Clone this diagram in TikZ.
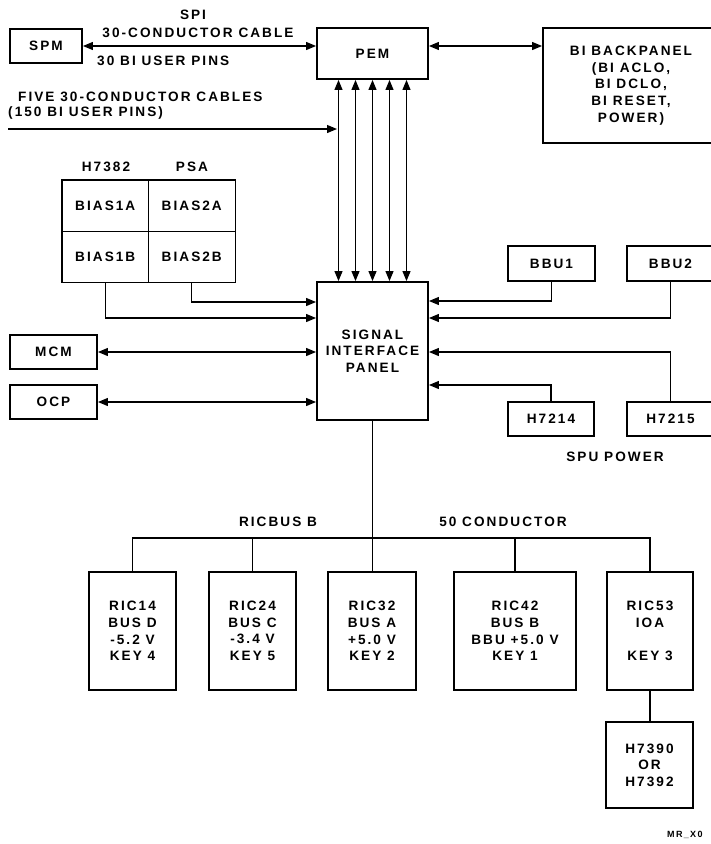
\documentclass[tikz,border=0pt]{standalone}
\usepackage{fontspec}
\setmainfont{Liberation Sans}[LetterSpace=15]
\usetikzlibrary{arrows.meta}
\newcommand{\pfont}{\fontsize{13.6}{16.6}\selectfont\bfseries}
\tikzset{
  pbox/.style={draw,line width=1.9pt,align=center,font=\pfont,inner sep=0pt},
  pcell/.style={draw,line width=1pt,minimum width=86.5,minimum height=51,font=\pfont,inner sep=0pt},
  plab/.style={font=\pfont,inner sep=0pt,align=center},
  pline/.style={line width=1.2pt},
  parr/.style={pline,-{Triangle[length=10pt,width=8pt]}},
  pdbl/.style={pline,{Triangle[length=10pt,width=8pt]}-{Triangle[length=10pt,width=8pt]}},
}

\begin{document}
\begin{tikzpicture}[x=1pt,y=-1pt]
\clip (0,0) rectangle (711,844);
% ---- top row: SPM, PEM, backpanel
\node[pbox,minimum width=72,minimum height=34] (spm) at (46,46) {SPM};
\node[pbox,minimum width=111,minimum height=51] (pem) at (372.5,53.5) {PEM};
\node[pbox,minimum width=176,minimum height=115] (bib) at (631,85.5) {BI BACKPANEL\\(BI ACLO,\\BI DCLO,\\BI RESET,\\POWER)};
\draw[pdbl] (spm.east) -- (spm.east -| pem.west);
\draw[pdbl] (pem.east |- spm.east) -- (bib.west |- spm.east);
\node[plab] (spi) at (193,15) {SPI};
\node[plab] (spicab) at (198,33) {30-CONDUCTOR CABLE};
\node[plab,anchor=west] (spipins) at (97,61) {30 BI USER PINS};
% ---- signal interface panel and the five cables
\node[pbox,minimum width=111,minimum height=138] (sip) at (372.5,351) {SIGNAL\\INTERFACE\\PANEL};
\foreach \d [count=\i] in {-34,-17,0,17,34}
  \draw[pdbl] ([xshift=\d]pem.south) coordinate (v\i) -- ([xshift=\d]sip.north);
\node[plab,anchor=west] (fivecab) at (18,97) {FIVE 30-CONDUCTOR CABLES};
\node[plab,anchor=west] (fivepins) at (8,113) {(150 BI USER PINS)};
\coordinate (cab) at (8,129);
\draw[parr] (cab) -- ([xshift=-1.5]cab -| v1);
% ---- H7382 PSA
\node[pcell] (b1a) at (105.25,205.5) {BIAS1A};
\node[pcell] (b2a) at (191.75,205.5) {BIAS2A};
\node[pcell] (b1b) at (105.25,256.5) {BIAS1B};
\node[pcell] (b2b) at (191.75,256.5) {BIAS2B};
\draw[line width=1.9pt] (b1a.north west) rectangle (b2b.south east);
\node[plab] (h7382) at (106,167) {H7382};
\node[plab] (psa) at (192,167) {PSA};
\draw[parr] (b2b.south) |- ([yshift=49]sip.west);
\draw[parr] (b1b.south) |- ([yshift=33]sip.west);
% ---- MCM, OCP
\node[pbox,minimum width=87,minimum height=34] (mcm) at (53.5,352) {MCM};
\node[pbox,minimum width=87,minimum height=34] (ocp) at (53.5,402) {OCP};
\draw[pdbl] (mcm.east) -- (mcm.east -| sip.west);
\draw[pdbl] (ocp.east) -- (ocp.east -| sip.west);
% ---- SPU power
\node[pbox,minimum width=87,minimum height=35] (bbu1) at (551.5,263.5) {BBU1};
\node[pbox,minimum width=87,minimum height=35] (bbu2) at (670.5,263.5) {BBU2};
\node[pbox,minimum width=86,minimum height=34] (h7214) at (551,419) {H7214};
\node[pbox,minimum width=87,minimum height=34] (h7215) at (670.5,419) {H7215};
\draw[parr] (bbu1.south) |- ([yshift=50]sip.east);
\draw[parr] (bbu2.south) |- ([yshift=33]sip.east);
\draw[parr] (h7215.north) |- ([yshift=-1]sip.east);
\draw[parr] (h7214.north) |- ([yshift=-34]sip.east);
\node[plab] (spupow) at (615,457) {SPU POWER};
% ---- RIC bus
\coordinate (bus) at (372.5,538);
\node[plab] (ricbus) at (278,522) {RICBUS B};
\node[plab] (fifty) at (503,522) {50 CONDUCTOR};
\node[pbox,minimum width=87,minimum height=118] (ric14) at (132.5,631) {RIC14\\BUS D\\-5.2 V\\KEY 4};
\node[pbox,minimum width=87,minimum height=118] (ric24) at (252.5,631) {RIC24\\BUS C\\-3.4 V\\KEY 5};
\node[pbox,minimum width=88,minimum height=118] (ric32) at (372,631) {RIC32\\BUS A\\+5.0 V\\KEY 2};
\node[pbox,minimum width=122,minimum height=118] (ric42) at (515,631) {RIC42\\BUS B\\BBU +5.0 V\\KEY 1};
\node[pbox,minimum width=86,minimum height=118] (ric53) at (650,631) {RIC53\\IOA\\\\KEY 3};
\node[pbox,minimum width=87,minimum height=86] (h7390) at (649.5,765) {H7390\\OR\\H7392};
\draw[pline] (sip.south) -- (sip.south |- ric32.north);
\draw[pline] (ric14.north) |- (bus) -| (ric53.north);
\draw[pline] (ric24.north) -- (ric24.north |- bus);
\draw[pline] (ric42.north) -- (ric42.north |- bus);
\draw[pline] (ric53.south) -- (ric53.south |- h7390.north);
\node[font=\fontsize{9}{10}\selectfont\bfseries,anchor=west,inner sep=0pt] (figid) at (667,835) {MR\_X0};
\end{tikzpicture}
\end{document}
